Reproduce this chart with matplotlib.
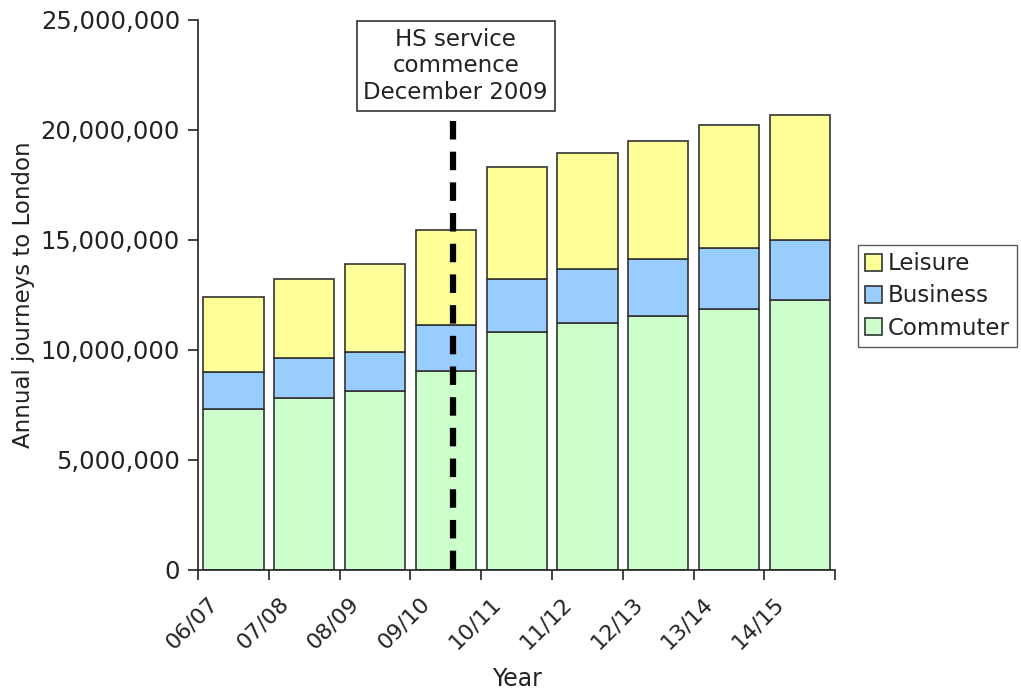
import matplotlib
matplotlib.use("Agg")
import matplotlib.pyplot as plt
from matplotlib.ticker import FuncFormatter, FixedLocator
import matplotlib.transforms as mtransforms

years = ["06/07", "07/08", "08/09", "09/10", "10/11", "11/12", "12/13", "13/14", "14/15"]
commuter = [7.30e6, 7.80e6, 8.11e6, 9.06e6, 10.80e6, 11.24e6, 11.56e6, 11.86e6, 12.26e6]
business_top = [8.99e6, 9.62e6, 9.92e6, 11.11e6, 13.24e6, 13.68e6, 14.12e6, 14.62e6, 15.00e6]
total = [12.42e6, 13.24e6, 13.88e6, 15.44e6, 18.32e6, 18.95e6, 19.51e6, 20.21e6, 20.67e6]
business = [b - c for b, c in zip(business_top, commuter)]
leisure = [t - b for t, b in zip(total, business_top)]

service_pos = 3.1
service_top = 20.38e6

plt.rcParams['font.family'] = ['DejaVu Sans']
fig = plt.figure(figsize=(10.21, 6.93), dpi=100)
ax = fig.add_axes([0.194, 0.1775, 0.624, 0.794])

x = list(range(len(years)))
w = 0.85
ec = '#333333'
ax.bar(x, commuter, w, color='#CCFFCC', edgecolor=ec, linewidth=1.2, label='Commuter', zorder=2)
ax.bar(x, business, w, bottom=commuter, color='#99CCFF', edgecolor=ec, linewidth=1.2, label='Business', zorder=2)
ax.bar(x, leisure, w, bottom=business_top, color='#FFFF99', edgecolor=ec, linewidth=1.2, label='Leisure', zorder=2)

ax.plot([service_pos, service_pos], [service_top, 0], color='black', linewidth=4.5,
        linestyle=(0, (2.96, 1.95)), zorder=3, solid_capstyle='butt', dash_capstyle='butt')

ax.text(3.14, 22.9e6, "HS service\ncommence\nDecember 2009", ha='center', va='center',
        fontsize=16.5, color='#222222', linespacing=1.18,
        bbox=dict(boxstyle='square,pad=0.3', facecolor='white', edgecolor='#333333', linewidth=1.2),
        zorder=4)

ax.set_xlim(-0.5, len(years) - 0.5)
ax.set_ylim(0, 25e6)
ax.set_yticks([0, 5e6, 10e6, 15e6, 20e6, 25e6])
ax.yaxis.set_major_formatter(FuncFormatter(lambda v, p: f"{int(v):,}"))
ax.tick_params(axis='y', labelsize=17.5, length=7, width=1.2, colors='#222222', pad=6)

ax.xaxis.set_major_locator(FixedLocator([i - 0.5 for i in range(len(years) + 1)]))
ax.set_xticklabels([])
ax.tick_params(axis='x', length=7, width=1.2, colors='#222222')
ax.xaxis.set_minor_locator(FixedLocator(x))
ax.set_xticklabels(years, minor=True, rotation=45, ha='right', va='top', fontsize=16, color='#222222')
ax.tick_params(axis='x', which='minor', length=0, pad=17)
offset = mtransforms.ScaledTranslation(-12 / 100, 0, fig.dpi_scale_trans)
for lab in ax.xaxis.get_minorticklabels():
    lab.set_transform(lab.get_transform() + offset)

for s in ['top', 'right']:
    ax.spines[s].set_visible(False)
for s in ['left', 'bottom']:
    ax.spines[s].set_linewidth(1.2)
    ax.spines[s].set_color('#222222')

ax.set_ylabel("Annual journeys to London", fontsize=16.5, color='#222222', labelpad=4)
ax.set_xlabel("Year", fontsize=17, color='#222222')
ax.xaxis.set_label_coords(0.5, -0.176)

handles, labels = ax.get_legend_handles_labels()
leg = ax.legend(handles[::-1], labels[::-1], loc='center left', bbox_to_anchor=(1.036, 0.498),
                fontsize=16.5, frameon=True, fancybox=False, edgecolor='#333333',
                handlelength=0.75, handleheight=0.75, handletextpad=0.25, borderpad=0.3,
                labelspacing=0.4, borderaxespad=0)
leg.get_frame().set_linewidth(1.0)
for t in leg.get_texts():
    t.set_color('#222222')

fig.savefig("out.png", dpi=100, facecolor='white')
